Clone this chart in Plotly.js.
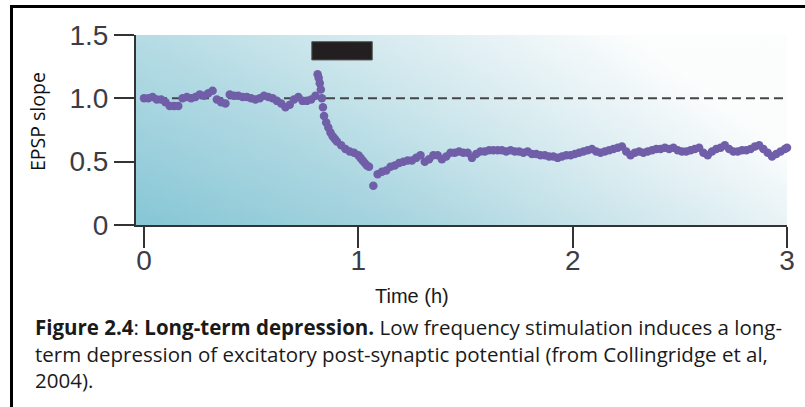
<!DOCTYPE html>
<html>
<head>
<meta charset="utf-8">
<script src="https://cdn.plot.ly/plotly-3.0.1.min.js"></script>
<style>
  html, body { margin: 0; padding: 0; background: #fff; }
  #wrap { position: relative; width: 805px; height: 407px; overflow: hidden; }
  #chart { position: absolute; left: 0; top: 0; width: 805px; height: 407px; }
  #frame { position: absolute; left: 10px; top: 5px; width: 900px; height: 500px;
           border-left: 3px solid #000; border-top: 3px solid #000; pointer-events: none; }
</style>
</head>
<body>
<div id="wrap">
  <div id="chart"></div>
  <div id="frame"></div>
</div>
<script>
// ---- Data ----
const timeH = [
  0.00, 0.02, 0.04, 0.06, 0.08, 0.10, 0.12, 0.14, 0.16, 0.18,
  0.20, 0.22, 0.24, 0.26, 0.28, 0.30, 0.32, 0.34, 0.36, 0.38,
  0.40, 0.42, 0.44, 0.46, 0.48, 0.50, 0.52, 0.54, 0.56, 0.58,
  0.60, 0.62, 0.64, 0.66, 0.68, 0.70, 0.72, 0.74, 0.76, 0.78,
  0.80, 0.81, 0.815, 0.82, 0.825, 0.83, 0.835, 0.84, 0.85, 0.86,
  0.87, 0.88, 0.89, 0.90, 0.92, 0.94, 0.96, 0.98, 1.00, 1.01,
  1.02, 1.03, 1.04, 1.05, 1.07, 1.09, 1.11, 1.13, 1.15, 1.17,
  1.19, 1.21, 1.23, 1.25, 1.27, 1.29, 1.31, 1.33, 1.35, 1.37,
  1.39, 1.41, 1.43, 1.45, 1.47, 1.49, 1.51, 1.53, 1.55, 1.57,
  1.59, 1.61, 1.63, 1.65, 1.67, 1.69, 1.71, 1.73, 1.75, 1.77,
  1.79, 1.81, 1.83, 1.85, 1.87, 1.89, 1.91, 1.93, 1.95, 1.97,
  1.99, 2.01, 2.03, 2.05, 2.07, 2.09, 2.11, 2.13, 2.15, 2.17,
  2.19, 2.21, 2.23, 2.25, 2.27, 2.29, 2.31, 2.33, 2.35, 2.37,
  2.39, 2.41, 2.43, 2.45, 2.47, 2.49, 2.51, 2.53, 2.55, 2.57,
  2.59, 2.61, 2.63, 2.65, 2.67, 2.69, 2.71, 2.73, 2.75, 2.77,
  2.79, 2.81, 2.83, 2.85, 2.87, 2.89, 2.91, 2.93, 2.95, 2.97,
  2.99, 3.00
];
const epspSlope = [
  1.00, 1.00, 1.01, 0.99, 0.99, 0.97, 0.94, 0.94, 0.94, 1.00,
  1.01, 1.00, 1.01, 1.03, 1.02, 1.04, 1.06, 0.99, 0.97, 0.96,
  1.03, 1.02, 1.02, 1.01, 1.01, 1.00, 0.99, 1.00, 1.02, 1.01,
  1.00, 0.98, 0.96, 0.93, 0.95, 0.99, 1.01, 0.98, 0.98, 0.99,
  1.02, 1.19, 1.16, 1.12, 1.07, 1.00, 0.93, 0.86, 0.81, 0.77,
  0.73, 0.70, 0.68, 0.66, 0.63, 0.60, 0.58, 0.57, 0.55, 0.53,
  0.51, 0.49, 0.47, 0.46, 0.31, 0.40, 0.42, 0.43, 0.46, 0.47,
  0.49, 0.50, 0.51, 0.51, 0.53, 0.55, 0.50, 0.52, 0.55, 0.55,
  0.52, 0.54, 0.57, 0.57, 0.58, 0.57, 0.57, 0.53, 0.56, 0.58,
  0.58, 0.59, 0.59, 0.59, 0.59, 0.58, 0.59, 0.58, 0.58, 0.57,
  0.58, 0.56, 0.56, 0.55, 0.55, 0.54, 0.54, 0.53, 0.54, 0.55,
  0.55, 0.56, 0.57, 0.58, 0.59, 0.60, 0.58, 0.57, 0.58, 0.59,
  0.60, 0.61, 0.62, 0.58, 0.55, 0.57, 0.58, 0.57, 0.58, 0.59,
  0.60, 0.60, 0.61, 0.60, 0.61, 0.59, 0.58, 0.58, 0.59, 0.60,
  0.61, 0.57, 0.55, 0.58, 0.60, 0.61, 0.63, 0.60, 0.58, 0.58,
  0.59, 0.59, 0.60, 0.62, 0.63, 0.60, 0.57, 0.54, 0.56, 0.58,
  0.60, 0.61
];
const baselineX = [0, 3];
const baselineY = [1, 1];
const stimPeriod = [0.783, 1.065];   // low-frequency stimulation (h)
const stimBarY = [1.303, 1.447];
const xTickVals = [0, 1, 2, 3];
const xTickText = ['0', '1', '2', '3'];
const yTickVals = [0, 0.5, 1.0, 1.5];
const yTickText = ['0', '0.5', '1.0', '1.5'];
const captionLines = [
  '<b>Figure 2.4</b>: <b>Long-term depression.</b> Low frequency stimulation induces a long-',
  'term depression of excitatory post-synaptic potential (from Collingridge et al,',
  '2004).'
];

// ---- Background gradient image (style only) ----
const svg = '<svg xmlns="http://www.w3.org/2000/svg" width="652" height="190" preserveAspectRatio="none" viewBox="0 0 652 190">' +
  '<defs><linearGradient id="g" x1="0" y1="1" x2="1" y2="0.6">' +
  '<stop offset="0" stop-color="#86c6d5"/>' +
  '<stop offset="0.35" stop-color="#a6d4df"/>' +
  '<stop offset="0.65" stop-color="#cde6ec"/>' +
  '<stop offset="0.88" stop-color="#ebf4f7"/>' +
  '<stop offset="1" stop-color="#fbfdfd"/>' +
  '</linearGradient>' +
  '<linearGradient id="v" x1="0" y1="0" x2="0" y2="1">' +
  '<stop offset="0" stop-color="#ffffff" stop-opacity="0.18"/>' +
  '<stop offset="1" stop-color="#ffffff" stop-opacity="0"/>' +
  '</linearGradient></defs>' +
  '<rect width="652" height="190" fill="url(#g)"/>' +
  '<rect width="652" height="190" fill="url(#v)"/>' +
  '</svg>';
const bgUri = 'data:image/svg+xml;charset=utf-8,' + encodeURIComponent(svg);

const tickFont = { family: '"Liberation Sans Narrow", "Arial Narrow", sans-serif', size: 28, color: '#3c3c46' };
const capFont = { family: '"Open Sans", Lato, sans-serif', size: 20.5, color: '#1a1a1a' };

const traces = [
  {
    x: baselineX, y: baselineY, type: 'scatter', mode: 'lines',
    line: { color: '#454545', width: 2, dash: '9px,5px' },
    hoverinfo: 'skip', showlegend: false
  },
  {
    x: timeH, y: epspSlope, type: 'scatter', mode: 'markers',
    marker: { color: 'rgb(112,94,168)', size: 8.5, line: { width: 0 } },
    cliponaxis: false, showlegend: false
  }
];

const layout = {
  width: 805, height: 407,
  margin: { l: 136, r: 18, t: 35, b: 182 },
  paper_bgcolor: 'rgba(0,0,0,0)',
  plot_bgcolor: 'rgba(0,0,0,0)',
  showlegend: false,
  xaxis: {
    range: [-0.0373, 3.0], tickvals: xTickVals, ticktext: xTickText,
    showgrid: false, zeroline: false, showline: true,
    linecolor: '#333', linewidth: 2,
    ticks: 'outside', ticklen: 21, tickwidth: 2, tickcolor: '#333',
    tickfont: tickFont, ticklabelstandoff: -12
  },
  yaxis: {
    range: [0, 1.5], tickvals: yTickVals, ticktext: yTickText,
    showgrid: false, zeroline: false, showline: true,
    linecolor: '#333', linewidth: 2,
    ticks: 'outside', ticklen: 20, tickwidth: 2, tickcolor: '#333',
    tickfont: tickFont, ticklabelstandoff: 0
  },
  images: [{
    source: bgUri, xref: 'paper', yref: 'paper', x: 0, y: 1,
    sizex: 1, sizey: 1, sizing: 'stretch', layer: 'below',
    xanchor: 'left', yanchor: 'top'
  }],
  shapes: [
    {
      type: 'rect', xref: 'x', yref: 'y',
      x0: stimPeriod[0], x1: stimPeriod[1], y0: stimBarY[0], y1: stimBarY[1],
      fillcolor: '#231f20', line: { color: '#555', width: 1 }
    }
  ],
  annotations: [
    {
      text: 'EPSP slope', xref: 'paper', yref: 'paper',
      x: (37 - 136) / 651, y: (225 - 122) / 190, textangle: -90,
      showarrow: false, xanchor: 'center', yanchor: 'middle',
      font: { family: '"Open Sans", Lato, sans-serif', size: 19.5, color: '#111' }
    },
    {
      text: 'Time (h)', xref: 'paper', yref: 'paper',
      x: (412 - 136) / 651, y: -(296 - 225) / 190,
      showarrow: false, xanchor: 'center', yanchor: 'middle',
      font: { family: '"Liberation Sans Narrow", "Arial Narrow", sans-serif', size: 20, color: '#1a1a1a' }
    },
    {
      text: captionLines.join('<br>'),
      xref: 'paper', yref: 'paper', x: (33 - 136) / 651, y: -(353 - 225) / 190,
      showarrow: false, xanchor: 'left', yanchor: 'middle', align: 'left', font: capFont
    }
  ]
};

Plotly.newPlot('chart', traces, layout, { displayModeBar: false, staticPlot: true });
</script>
</body>
</html>
